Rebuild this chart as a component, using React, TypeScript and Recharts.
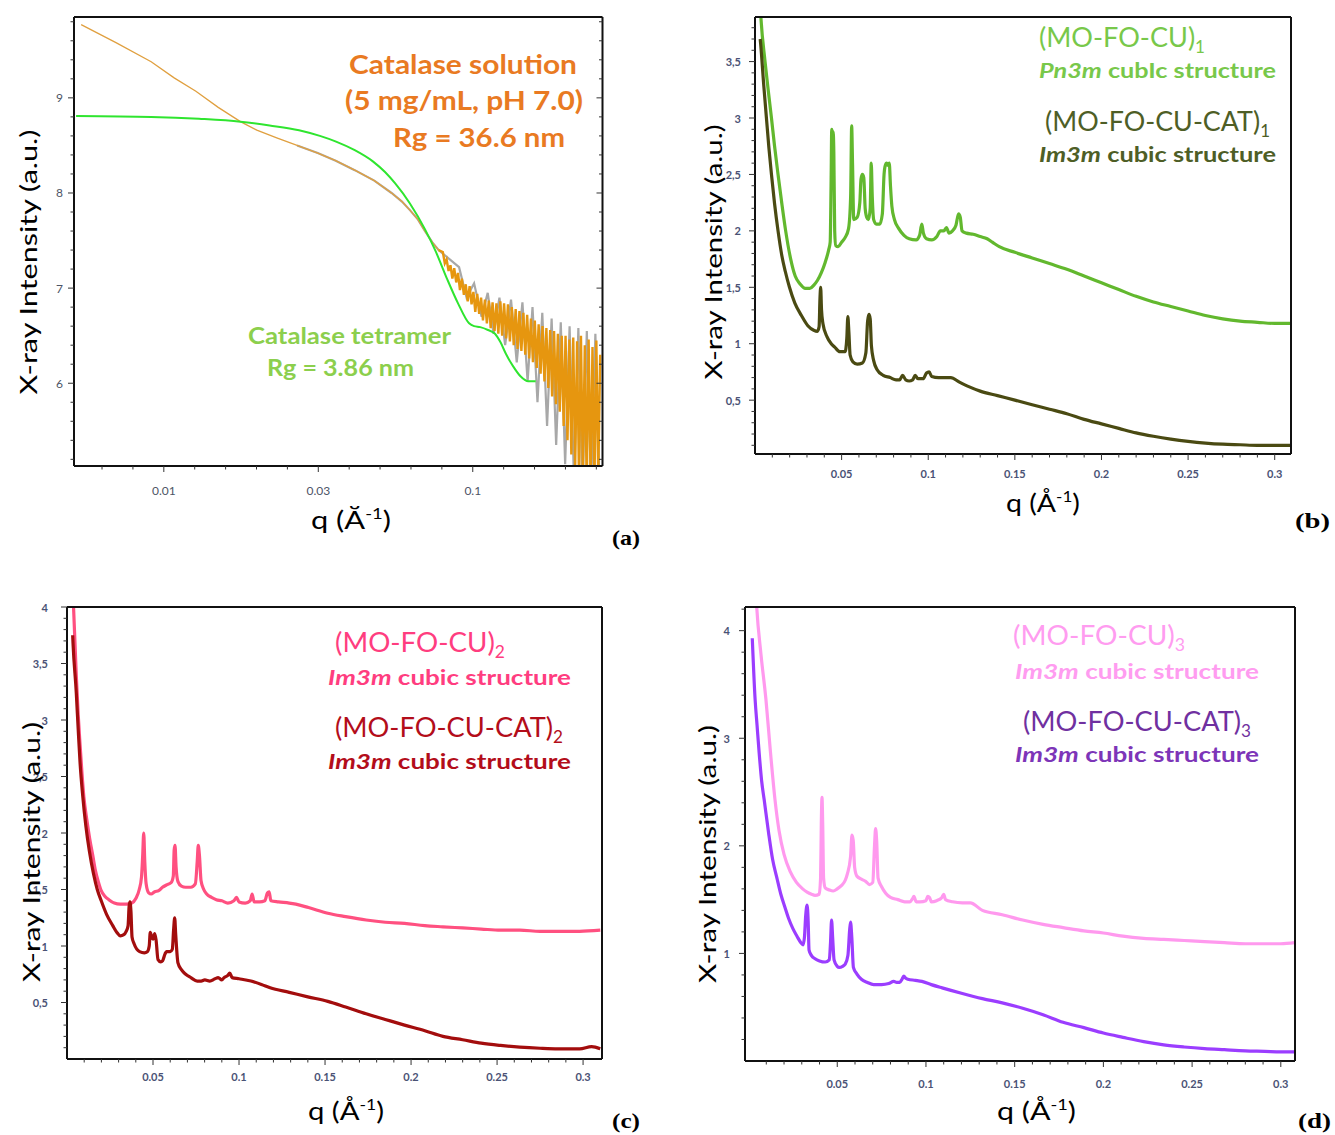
import React from 'react'
import { LineChart, Line, XAxis, YAxis } from 'recharts'

type Pt = [number, number]

// ---- (a) catalase solution vs tetramer model, log q ----
const catalaseSmooth: Pt[] = [
  [0.0054, 9.77], [0.0070, 9.58], [0.0091, 9.38], [0.0108, 9.21], [0.0127, 9.07], [0.0150, 8.90],
  [0.0177, 8.75], [0.0200, 8.66], [0.0232, 8.58], [0.0270, 8.50], [0.0315, 8.42], [0.0360, 8.34],
  [0.0415, 8.24], [0.0480, 8.13], [0.0546, 8.00], [0.0590, 7.91], [0.0626, 7.82], [0.0665, 7.72],
  [0.0700, 7.60], [0.0740, 7.48], [0.0775, 7.40],
]
const catalaseTailQ = [
  0.0800, 0.0812, 0.0823, 0.0835, 0.0847, 0.0859, 0.0871, 0.0884, 0.0896, 0.0909,
  0.0922, 0.0936, 0.0949, 0.0963, 0.0977, 0.0991, 0.1005, 0.1019, 0.1034, 0.1049,
  0.1064, 0.1079, 0.1095, 0.1111, 0.1127, 0.1143, 0.1159, 0.1176, 0.1193, 0.1210,
  0.1228, 0.1245, 0.1263, 0.1282, 0.1300, 0.1319, 0.1338, 0.1357, 0.1377, 0.1396,
  0.1416, 0.1437, 0.1458, 0.1479, 0.1500, 0.1522, 0.1543, 0.1566, 0.1588, 0.1611,
  0.1634, 0.1658, 0.1682, 0.1706, 0.1731, 0.1756, 0.1781, 0.1807, 0.1833, 0.1859,
  0.1886, 0.1913, 0.1941, 0.1969, 0.1997, 0.2026, 0.2055, 0.2085, 0.2115, 0.2145,
  0.2176, 0.2208, 0.2240, 0.2272, 0.2305, 0.2338, 0.2372, 0.2406, 0.2441, 0.2476,
  0.2512, 0.2548, 0.2585,
]
const catalaseTailI = [
  7.38, 7.26, 7.30, 7.18, 7.24, 7.10, 7.21, 7.06, 7.16, 6.98,
  7.10, 6.93, 7.04, 6.86, 7.02, 6.83, 6.96, 6.75, 6.94, 6.73,
  6.90, 6.66, 6.88, 6.63, 6.87, 6.58, 6.85, 6.55, 6.84, 6.52,
  6.86, 6.50, 6.84, 6.47, 6.83, 6.44, 6.80, 6.40, 6.78, 6.36,
  6.76, 6.34, 6.74, 6.30, 6.72, 6.26, 6.68, 6.22, 6.66, 6.16,
  6.62, 6.10, 6.60, 6.02, 6.58, 5.95, 6.56, 5.86, 6.55, 5.78,
  6.52, 5.70, 6.50, 5.55, 6.50, 5.40, 6.46, 5.25, 6.48, 5.10,
  6.44, 4.95, 6.50, 5.00, 6.40, 4.90, 6.46, 5.00, 6.38, 4.90,
  6.45, 5.00, 6.30,
]
const catalaseGreyQ = [
  0.0903, 0.0955, 0.1010, 0.1068, 0.1118, 0.1168, 0.1220, 0.1273, 0.1330, 0.1388,
  0.1448, 0.1505, 0.1561, 0.1620, 0.1679, 0.1740, 0.1800, 0.1862, 0.1927, 0.1991,
  0.2058, 0.2128, 0.2197, 0.2267, 0.2340, 0.2415, 0.2494, 0.2570,
]
const catalaseGreyI = [
  7.22, 6.90, 7.05, 6.70, 6.95, 6.52, 6.90, 6.40, 6.88, 6.22,
  6.85, 6.02, 6.80, 5.80, 6.74, 5.55, 6.68, 5.35, 6.64, 5.15,
  6.60, 4.95, 6.58, 4.90, 6.55, 4.90, 6.52, 4.95,
]
const tetramerFit: Pt[] = [
  [0.0052, 8.81], [0.0091, 8.80], [0.0130, 8.78], [0.0177, 8.75], [0.0220, 8.71], [0.0274, 8.66],
  [0.0320, 8.60], [0.0361, 8.54], [0.0415, 8.45], [0.0476, 8.33], [0.0520, 8.22], [0.0561, 8.10],
  [0.0626, 7.89], [0.0700, 7.62], [0.0760, 7.38], [0.0825, 7.10], [0.0896, 6.84], [0.0973, 6.63],
  [0.1010, 6.60], [0.1057, 6.59], [0.1120, 6.56], [0.1180, 6.52], [0.1230, 6.43], [0.1280, 6.31],
  [0.1350, 6.18], [0.1430, 6.07], [0.1512, 6.02], [0.1598, 6.02],
]

// ---- (b) ----
const moFoCu1: Pt[] = [
  [0.0030, 4.00], [0.0035, 3.87], [0.0058, 3.50], [0.0076, 3.25], [0.0095, 3.00], [0.0113, 2.75],
  [0.0133, 2.50], [0.0155, 2.24], [0.0177, 2.00], [0.0206, 1.75], [0.0232, 1.60], [0.0260, 1.53],
  [0.0290, 1.49], [0.0316, 1.49], [0.0340, 1.52], [0.0360, 1.56], [0.0383, 1.63], [0.0405, 1.72],
  [0.0425, 1.83], [0.0434, 1.90], [0.0439, 2.40], [0.0443, 2.90], [0.0447, 2.55], [0.0451, 2.88],
  [0.0455, 2.70], [0.0460, 2.00], [0.0466, 1.87], [0.0480, 1.86], [0.0500, 1.90], [0.0520, 1.94],
  [0.0540, 2.02], [0.0552, 2.30], [0.0558, 2.93], [0.0563, 2.60], [0.0570, 2.10], [0.0590, 2.12],
  [0.0605, 2.25], [0.0612, 2.46], [0.0620, 2.50], [0.0628, 2.47], [0.0636, 2.20], [0.0645, 2.12],
  [0.0655, 2.10], [0.0665, 2.20], [0.0671, 2.60], [0.0677, 2.30], [0.0685, 2.10], [0.0700, 2.06],
  [0.0720, 2.06], [0.0735, 2.15], [0.0745, 2.50], [0.0752, 2.58], [0.0760, 2.60], [0.0768, 2.58],
  [0.0775, 2.60], [0.0782, 2.40], [0.0790, 2.22], [0.0805, 2.10], [0.0830, 2.02], [0.0860, 1.96],
  [0.0890, 1.93], [0.0930, 1.92], [0.0950, 1.96], [0.0963, 2.06], [0.0972, 1.98], [0.0990, 1.93],
  [0.1020, 1.92], [0.1050, 1.95], [0.1070, 2.00], [0.1090, 2.00], [0.1105, 2.03], [0.1120, 1.98],
  [0.1140, 2.00], [0.1160, 2.05], [0.1175, 2.15], [0.1185, 2.12], [0.1195, 2.00], [0.1220, 1.98],
  [0.1260, 1.97], [0.1300, 1.95], [0.1340, 1.93], [0.1370, 1.90], [0.1410, 1.86], [0.1500, 1.81],
  [0.1600, 1.76], [0.1700, 1.71], [0.1800, 1.66], [0.1900, 1.60], [0.2000, 1.54], [0.2100, 1.48],
  [0.2200, 1.42], [0.2300, 1.37], [0.2400, 1.33], [0.2500, 1.29], [0.2600, 1.25], [0.2700, 1.22],
  [0.2800, 1.20], [0.2900, 1.19], [0.3000, 1.18], [0.3095, 1.18],
]
const moFoCuCat1: Pt[] = [
  [0.0030, 3.70], [0.0033, 3.65], [0.0050, 3.30], [0.0066, 3.00], [0.0080, 2.74], [0.0095, 2.50],
  [0.0113, 2.24], [0.0133, 2.00], [0.0155, 1.78], [0.0175, 1.64], [0.0199, 1.50], [0.0230, 1.36],
  [0.0268, 1.25], [0.0305, 1.16], [0.0339, 1.12], [0.0360, 1.11], [0.0370, 1.15], [0.0375, 1.40],
  [0.0379, 1.50], [0.0384, 1.30], [0.0392, 1.18], [0.0416, 1.06], [0.0440, 1.00], [0.0460, 0.97],
  [0.0490, 0.93], [0.0520, 0.93], [0.0530, 1.05], [0.0536, 1.24], [0.0542, 1.10], [0.0549, 0.90],
  [0.0565, 0.84], [0.0590, 0.82], [0.0620, 0.83], [0.0640, 0.92], [0.0650, 1.20], [0.0658, 1.26],
  [0.0665, 1.22], [0.0672, 0.98], [0.0685, 0.85], [0.0705, 0.77], [0.0740, 0.72], [0.0780, 0.70],
  [0.0814, 0.68], [0.0835, 0.68], [0.0852, 0.72], [0.0870, 0.68], [0.0890, 0.67], [0.0910, 0.68],
  [0.0925, 0.72], [0.0940, 0.69], [0.0970, 0.69], [0.0990, 0.74], [0.1005, 0.75], [0.1020, 0.71],
  [0.1060, 0.70], [0.1100, 0.70], [0.1130, 0.70], [0.1180, 0.66], [0.1234, 0.62], [0.1300, 0.58],
  [0.1400, 0.54], [0.1500, 0.50], [0.1600, 0.46], [0.1700, 0.42], [0.1800, 0.38], [0.1900, 0.33],
  [0.2000, 0.29], [0.2100, 0.25], [0.2200, 0.21], [0.2300, 0.18], [0.2400, 0.155], [0.2500, 0.135],
  [0.2600, 0.12], [0.2700, 0.11], [0.2800, 0.105], [0.2900, 0.10], [0.3000, 0.10], [0.3095, 0.10],
]

// ---- (c) ----
const moFoCu2: Pt[] = [
  [0.0030, 4.40], [0.0038, 4.00], [0.0054, 3.39], [0.0065, 3.05], [0.0076, 2.78], [0.0087, 2.53],
  [0.0098, 2.32], [0.0115, 2.12], [0.0132, 1.95], [0.0150, 1.80], [0.0165, 1.67], [0.0182, 1.57],
  [0.0199, 1.49], [0.0220, 1.44], [0.0243, 1.41], [0.0275, 1.38], [0.0310, 1.37], [0.0345, 1.37],
  [0.0377, 1.38], [0.0400, 1.42], [0.0420, 1.50], [0.0433, 1.61], [0.0440, 1.80], [0.0446, 2.00],
  [0.0452, 1.75], [0.0460, 1.55], [0.0475, 1.47], [0.0489, 1.46], [0.0510, 1.48], [0.0533, 1.49],
  [0.0555, 1.52], [0.0578, 1.54], [0.0605, 1.56], [0.0618, 1.62], [0.0623, 1.85], [0.0628, 1.89],
  [0.0634, 1.70], [0.0645, 1.57], [0.0665, 1.53], [0.0690, 1.52], [0.0720, 1.52], [0.0746, 1.55],
  [0.0757, 1.75], [0.0763, 1.89], [0.0770, 1.80], [0.0779, 1.58], [0.0795, 1.50], [0.0812, 1.46],
  [0.0840, 1.43], [0.0868, 1.41], [0.0900, 1.40], [0.0935, 1.38], [0.0970, 1.40], [0.0985, 1.43],
  [0.1000, 1.39], [0.1036, 1.38], [0.1065, 1.40], [0.1076, 1.46], [0.1088, 1.39], [0.1120, 1.39],
  [0.1150, 1.40], [0.1165, 1.47], [0.1175, 1.48], [0.1185, 1.40], [0.1230, 1.39], [0.1292, 1.38],
  [0.1330, 1.37], [0.1404, 1.34], [0.1516, 1.29], [0.1620, 1.26], [0.1739, 1.23], [0.1850, 1.21],
  [0.1962, 1.20], [0.2080, 1.18], [0.2185, 1.17], [0.2300, 1.16], [0.2408, 1.15], [0.2520, 1.14],
  [0.2632, 1.14], [0.2750, 1.13], [0.2855, 1.13], [0.2980, 1.13], [0.3100, 1.14],
]
const moFoCuCat2: Pt[] = [
  [0.0033, 3.75], [0.0035, 3.68], [0.0054, 3.24], [0.0065, 2.92], [0.0076, 2.62], [0.0092, 2.32],
  [0.0109, 2.07], [0.0130, 1.84], [0.0154, 1.64], [0.0176, 1.50], [0.0199, 1.40], [0.0230, 1.28],
  [0.0266, 1.18], [0.0290, 1.12], [0.0310, 1.09], [0.0330, 1.10], [0.0344, 1.13], [0.0355, 1.18],
  [0.0361, 1.35], [0.0366, 1.39], [0.0372, 1.30], [0.0378, 1.08], [0.0390, 1.02], [0.0422, 0.95],
  [0.0450, 0.94], [0.0467, 0.95], [0.0478, 1.00], [0.0484, 1.12], [0.0492, 1.08], [0.0500, 1.06],
  [0.0510, 1.11], [0.0518, 1.05], [0.0529, 0.88], [0.0545, 0.86], [0.0556, 0.87], [0.0570, 0.93],
  [0.0578, 0.95], [0.0600, 0.95], [0.0612, 0.97], [0.0620, 1.15], [0.0626, 1.25], [0.0632, 1.10],
  [0.0645, 0.85], [0.0665, 0.79], [0.0690, 0.75], [0.0720, 0.72], [0.0757, 0.69], [0.0780, 0.69],
  [0.0801, 0.70], [0.0830, 0.69], [0.0860, 0.71], [0.0879, 0.72], [0.0900, 0.70], [0.0913, 0.72],
  [0.0935, 0.74], [0.0946, 0.76], [0.0960, 0.72], [0.1000, 0.71], [0.1069, 0.69], [0.1130, 0.66],
  [0.1181, 0.63], [0.1292, 0.59], [0.1400, 0.55], [0.1516, 0.51], [0.1620, 0.46], [0.1739, 0.40],
  [0.1850, 0.35], [0.1962, 0.30], [0.2080, 0.25], [0.2185, 0.20], [0.2300, 0.17], [0.2408, 0.14],
  [0.2520, 0.12], [0.2632, 0.105], [0.2750, 0.095], [0.2855, 0.09], [0.2980, 0.09], [0.3050, 0.11],
  [0.3100, 0.09],
]

// ---- (d) ----
const moFoCu3: Pt[] = [
  [0.0040, 4.40], [0.0046, 4.22], [0.0070, 3.78], [0.0098, 3.36], [0.0123, 2.88], [0.0149, 2.43],
  [0.0172, 2.14], [0.0200, 1.92], [0.0235, 1.76], [0.0270, 1.66], [0.0305, 1.60], [0.0330, 1.57],
  [0.0355, 1.55], [0.0375, 1.54], [0.0398, 1.55], [0.0406, 1.70], [0.0410, 2.20], [0.0414, 2.45],
  [0.0418, 2.20], [0.0423, 1.70], [0.0432, 1.61], [0.0455, 1.59], [0.0477, 1.58], [0.0500, 1.60],
  [0.0523, 1.63], [0.0545, 1.68], [0.0557, 1.74], [0.0575, 1.90], [0.0583, 2.10], [0.0590, 2.05],
  [0.0598, 1.80], [0.0610, 1.72], [0.0636, 1.69], [0.0660, 1.67], [0.0682, 1.64], [0.0700, 1.66],
  [0.0710, 2.00], [0.0716, 2.16], [0.0722, 2.05], [0.0730, 1.70], [0.0750, 1.62], [0.0773, 1.56],
  [0.0800, 1.52], [0.0841, 1.50], [0.0880, 1.48], [0.0909, 1.48], [0.0925, 1.51], [0.0932, 1.53],
  [0.0945, 1.48], [0.0966, 1.48], [0.1000, 1.49], [0.1010, 1.53], [0.1020, 1.52], [0.1030, 1.48],
  [0.1060, 1.49], [0.1090, 1.52], [0.1100, 1.55], [0.1110, 1.50], [0.1150, 1.48], [0.1205, 1.47],
  [0.1250, 1.47], [0.1318, 1.40], [0.1430, 1.36], [0.1545, 1.31], [0.1660, 1.27], [0.1773, 1.24],
  [0.1890, 1.21], [0.2000, 1.19], [0.2110, 1.16], [0.2227, 1.14], [0.2340, 1.13], [0.2455, 1.12],
  [0.2570, 1.11], [0.2682, 1.10], [0.2800, 1.09], [0.2909, 1.09], [0.3000, 1.09], [0.3080, 1.10],
]
const moFoCuCat3: Pt[] = [
  [0.0021, 3.93], [0.0037, 3.36], [0.0048, 3.12], [0.0060, 2.86], [0.0074, 2.60], [0.0088, 2.43],
  [0.0113, 2.12], [0.0136, 1.87], [0.0160, 1.70], [0.0182, 1.55], [0.0205, 1.43], [0.0227, 1.32],
  [0.0250, 1.23], [0.0273, 1.16], [0.0295, 1.10], [0.0307, 1.08], [0.0315, 1.15], [0.0322, 1.35],
  [0.0330, 1.45], [0.0336, 1.30], [0.0341, 1.03], [0.0355, 0.98], [0.0375, 0.95], [0.0400, 0.93],
  [0.0432, 0.92], [0.0455, 0.94], [0.0462, 1.10], [0.0468, 1.31], [0.0474, 1.15], [0.0482, 0.94],
  [0.0500, 0.88], [0.0511, 0.87], [0.0530, 0.88], [0.0545, 0.90], [0.0560, 0.98], [0.0570, 1.22],
  [0.0575, 1.29], [0.0582, 1.15], [0.0591, 0.87], [0.0610, 0.81], [0.0636, 0.76], [0.0670, 0.73],
  [0.0705, 0.71], [0.0750, 0.71], [0.0790, 0.72], [0.0818, 0.74], [0.0835, 0.73], [0.0852, 0.73],
  [0.0865, 0.76], [0.0875, 0.79], [0.0885, 0.77], [0.0898, 0.76], [0.0940, 0.75], [0.0977, 0.74],
  [0.1030, 0.71], [0.1091, 0.68], [0.1200, 0.63], [0.1318, 0.58], [0.1430, 0.54], [0.1545, 0.49],
  [0.1660, 0.43], [0.1773, 0.36], [0.1890, 0.31], [0.2000, 0.26], [0.2110, 0.22], [0.2227, 0.18],
  [0.2340, 0.15], [0.2455, 0.13], [0.2570, 0.115], [0.2682, 0.105], [0.2800, 0.095], [0.2909, 0.09],
  [0.3000, 0.085], [0.3080, 0.085],
]

// ---- ticks ----
const logMajors = [0.01, 10 ** -1.5, 0.1]
const logLabels = ['0.01', '0.03', '0.1']
const qMajors = [0.05, 0.1, 0.15, 0.2, 0.25, 0.3]
const qLabels = ['0.05', '0.1', '0.15', '0.2', '0.25', '0.3']
const aMajors = [6, 7, 8, 9]
const aLabels = ['6', '7', '8', '9']
const halfMajors = [0.5, 1, 1.5, 2, 2.5, 3, 3.5, 4]
const halfLabels = ['0,5', '1', '1,5', '2', '2,5', '3', '3,5', '4']
const dMajors = [1, 2, 3, 4]
const dLabels = ['1', '2', '3', '4']

const steps = (from: number, to: number, step: number) => {
  const out: number[] = []
  for (let v = from; v <= to + 1e-9; v += step) out.push(Math.round(v * 1e4) / 1e4)
  return out
}
const logTicks = Array.from({ length: 17 }, (_, i) => 10 ** (-2.2 + i / 10))
const qTicks = steps(0.01, 0.3, 0.01)

const rows = (pts: Pt[]) => pts.map(([q, I]) => ({ q, I }))
const zip = (qs: number[], is: number[]) => qs.map((q, i) => ({ q, I: is[i] }))

const SANS = 'Lato, "Open Sans", sans-serif'
const SERIF = '"Liberation Serif", "DejaVu Serif", serif'

function AxisTick(props: any) {
  const { x, y, payload, side, majors, labels, inward, gap, font } = props
  const v = payload ? payload.value : 0
  const k = majors.findIndex((m: number) => Math.abs(m - v) <= Math.abs(m) * 1e-6)
  const len = k >= 0 ? 6 : 3.5
  const d = inward ? -1 : 1
  const label = k >= 0 && labels ? labels[k] : null
  const txt = { fontFamily: font.family, fontSize: font.size, fontWeight: font.weight, fill: font.color }
  if (side === 'bottom' || side === 'top') {
    const s = side === 'bottom' ? d : -d
    return (
      <g>
        <line x1={x} y1={y} x2={x} y2={y + s * len} stroke="#333" strokeWidth={1} />
        {label && <text x={x} y={y + gap} textAnchor="middle" dominantBaseline="central" {...txt}>{label}</text>}
      </g>
    )
  }
  const s = side === 'left' ? -d : d
  return (
    <g>
      <line x1={x} y1={y} x2={x + s * len} y2={y} stroke="#333" strokeWidth={1} />
      {label && <text x={x - gap} y={y} textAnchor="end" dominantBaseline="central" {...txt}>{label}</text>}
    </g>
  )
}

const YW = 70
const XH = 50
const PAD = 12

function Panel({ box, xAx, yAx, font, mirrorTicks, series }: any) {
  const width = box.r - box.l + YW + 1 + PAD
  const height = box.b - box.t + PAD + 1 + XH
  const common = {
    type: 'number' as const, tickSize: 0, tickMargin: 0, tickLine: false, interval: 0 as const,
    allowDataOverflow: true, axisLine: { stroke: '#111', strokeWidth: 2 },
  }
  const xScale = xAx.log ? 'log' : 'linear'
  return (
    <div style={{ position: 'absolute', left: box.l - YW, top: box.t - PAD - 1 }}>
      <LineChart width={width} height={height} margin={{ top: PAD, right: PAD, bottom: 0, left: 0 }}>
        <XAxis xAxisId="b" dataKey="q" {...common} scale={xScale} domain={xAx.domain} ticks={xAx.ticks} height={XH}
          tick={<AxisTick side="bottom" majors={xAx.majors} labels={xAx.labels} gap={xAx.gap} font={font} />} />
        <XAxis xAxisId="t" orientation="top" {...common} scale={xScale} domain={xAx.domain} ticks={xAx.ticks} height={1}
          tick={mirrorTicks ? <AxisTick side="top" inward majors={xAx.majors} gap={0} font={font} /> : false} />
        <YAxis yAxisId="l" {...common} domain={yAx.domain} ticks={yAx.ticks} width={YW}
          tick={<AxisTick side="left" majors={yAx.majors} labels={yAx.labels} gap={yAx.gap} font={font} />} />
        <YAxis yAxisId="r" orientation="right" {...common} domain={yAx.domain} ticks={yAx.ticks} width={1}
          tick={mirrorTicks ? <AxisTick side="right" inward majors={yAx.majors} gap={0} font={font} /> : false} />
        {series.map((s: any, i: number) => (
          <Line key={i} xAxisId="b" yAxisId="l" data={s.data} dataKey="I" type={s.type || 'monotoneX'}
            stroke={s.color} strokeWidth={s.width} dot={false} activeDot={false} isAnimationActive={false} />
        ))}
      </LineChart>
    </div>
  )
}

function Txt({ x, y, w, size, color = '#000', weight = 400, family = SANS, rotate = false, children }: any) {
  return (
    <text x={x} y={y} textLength={w} lengthAdjust="spacingAndGlyphs" fontFamily={family} fontSize={size}
      fontWeight={weight} fill={color} textAnchor={rotate ? 'middle' : 'start'}
      transform={rotate ? `rotate(-90 ${x} ${y})` : undefined}>
      {children}
    </text>
  )
}

const Sub = ({ n }: { n: string }) => <tspan dy={6} fontSize={17}>{n}</tspan>
const QTitle = ({ x, y, w, a = 'Å' }: any) => (
  <Txt x={x} y={y} w={w} size={25}>
    q ({a}<tspan dy={-10} fontSize={15}>-1</tspan><tspan dy={10}>)</tspan>
  </Txt>
)
const YTitle = ({ x, y, w }: any) => <Txt x={x} y={y} w={w} size={24} rotate>X-ray Intensity (a.u.)</Txt>

const fontA = { family: SANS, size: 12, weight: 400, color: '#4d5566' }
const fontB = { family: SANS, size: 11, weight: 700, color: '#4a5275' }

export default function App() {
  const smooth = rows(catalaseSmooth)
  const tail = [smooth[smooth.length - 1], ...zip(catalaseTailQ, catalaseTailI)]
  const grey = [...rows(catalaseSmooth.filter((p) => p[0] >= 0.027)), ...zip(catalaseGreyQ, catalaseGreyI)]
  const qAxis = (domain: number[], gap: number) => ({ domain, ticks: qTicks, majors: qMajors, labels: qLabels, gap })

  return (
    <div style={{ position: 'absolute', left: 0, top: 0, width: 1335, height: 1135, background: '#fff', overflow: 'hidden' }}>
      <Panel box={{ l: 73.5, t: 17, r: 602, b: 466 }} font={fontA} mirrorTicks
        xAx={{ log: true, domain: [0.00512, 0.263], ticks: logTicks, majors: logMajors, labels: logLabels, gap: 24 }}
        yAx={{ domain: [5.13, 9.85], ticks: steps(5.2, 9.8, 0.2), majors: aMajors, labels: aLabels, gap: 11 }}
        series={[
          { data: grey, color: '#a8a8a8', width: 2.2, type: 'linear' },
          { data: smooth, color: '#e0a040', width: 1.3, type: 'linear' },
          { data: tail, color: '#e6960f', width: 2.4, type: 'linear' },
          { data: rows(tetramerFit), color: '#2fe52f', width: 2 },
        ]} />
      <Panel box={{ l: 755, t: 17, r: 1291, b: 454 }} font={fontB}
        xAx={qAxis([0, 0.3094], 19)}
        yAx={{ domain: [0.023, 3.895], ticks: steps(0.1, 3.8, 0.1), majors: halfMajors, labels: halfLabels, gap: 14 }}
        series={[
          { data: rows(moFoCu1), color: '#62b82e', width: 3.2 },
          { data: rows(moFoCuCat1), color: '#4a4a12', width: 3.2 },
        ]} />
      <Panel box={{ l: 67, t: 607, r: 602, b: 1059 }} font={fontB}
        xAx={qAxis([0, 0.311], 17)}
        yAx={{ domain: [0, 4], ticks: steps(0.1, 4, 0.1), majors: halfMajors, labels: halfLabels, gap: 19 }}
        series={[
          { data: rows(moFoCu2), color: '#ff5080', width: 3.2 },
          { data: rows(moFoCuCat2), color: '#a30d0d', width: 3.2 },
        ]} />
      <Panel box={{ l: 745, t: 607, r: 1295, b: 1061 }} font={fontB}
        xAx={qAxis([-0.002, 0.308], 22)}
        yAx={{ domain: [0, 4.22], ticks: steps(0.2, 4.2, 0.2), majors: dMajors, labels: dLabels, gap: 15 }}
        series={[
          { data: rows(moFoCu3), color: '#ff99ee', width: 3.2 },
          { data: rows(moFoCuCat3), color: '#9b3dff', width: 3.2 },
        ]} />

      <svg width={1335} height={1135} style={{ position: 'absolute', left: 0, top: 0, pointerEvents: 'none' }}>
        {/* (a) */}
        <Txt x={349} y={74} w={228} size={27} weight={700} color="#e97a22">Catalase solution</Txt>
        <Txt x={345} y={110} w={238} size={27} weight={700} color="#e97a22">(5 mg/mL, pH 7.0)</Txt>
        <Txt x={393} y={147} w={172} size={27} weight={700} color="#e97a22">Rg = 36.6 nm</Txt>
        <Txt x={248} y={344} w={203} size={23} weight={700} color="#8ccf4d">Catalase tetramer</Txt>
        <Txt x={267} y={376} w={147} size={23} weight={700} color="#8ccf4d">Rg = 3.86 nm</Txt>
        <QTitle x={311} y={529} w={80} a="Ă" />
        <YTitle x={37} y={262} w={265} />
        <Txt x={612} y={545} w={28} size={22} weight={700} family={SERIF}>(a)</Txt>

        {/* (b) */}
        <Txt x={1039} y={47} w={166} size={27} color="#78c84a">(MO-FO-CU)<Sub n="1" /></Txt>
        <Txt x={1039} y={78} w={237} size={20} weight={700} color="#78c84a"><tspan fontStyle="italic">Pn3m</tspan> cubIc structure</Txt>
        <Txt x={1045} y={131} w={225} size={27} color="#4e5e26">(MO-FO-CU-CAT)<Sub n="1" /></Txt>
        <Txt x={1039} y={162} w={237} size={20} weight={700} color="#4e5e26"><tspan fontStyle="italic">Im3m</tspan> cubic structure</Txt>
        <QTitle x={1006} y={512} w={74} />
        <YTitle x={722} y={252} w={255} />
        <Txt x={1295} y={528} w={35} size={22} weight={700} family={SERIF}>(b)</Txt>

        {/* (c) */}
        <Txt x={335} y={652} w={170} size={27} color="#ff3d7f">(MO-FO-CU)<Sub n="2" /></Txt>
        <Txt x={328} y={685} w={243} size={20} weight={700} color="#ff3d7f"><tspan fontStyle="italic">Im3m</tspan> cubic structure</Txt>
        <Txt x={335} y={737} w={228} size={27} color="#b30d1a">(MO-FO-CU-CAT)<Sub n="2" /></Txt>
        <Txt x={328} y={769} w={243} size={20} weight={700} color="#b30d1a"><tspan fontStyle="italic">Im3m</tspan> cubic structure</Txt>
        <QTitle x={308} y={1120} w={76} />
        <YTitle x={40} y={852} w={260} />
        <Txt x={612} y={1128} w={28} size={21} weight={700} family={SERIF}>(c)</Txt>

        {/* (d) */}
        <Txt x={1013} y={645} w={172} size={27} color="#ff9cf0">(MO-FO-CU)<Sub n="3" /></Txt>
        <Txt x={1015} y={679} w={244} size={20} weight={700} color="#ff9cf0"><tspan fontStyle="italic">Im3m</tspan> cubic structure</Txt>
        <Txt x={1023} y={731} w={228} size={27} color="#7030a0">(MO-FO-CU-CAT)<Sub n="3" /></Txt>
        <Txt x={1015} y={762} w={244} size={20} weight={700} color="#7d35b8"><tspan fontStyle="italic">Im3m</tspan> cubic structure</Txt>
        <QTitle x={997} y={1120} w={79} />
        <YTitle x={716} y={854} w={258} />
        <Txt x={1298} y={1128} w={33} size={21} weight={700} family={SERIF}>(d)</Txt>
      </svg>
    </div>
  )
}
